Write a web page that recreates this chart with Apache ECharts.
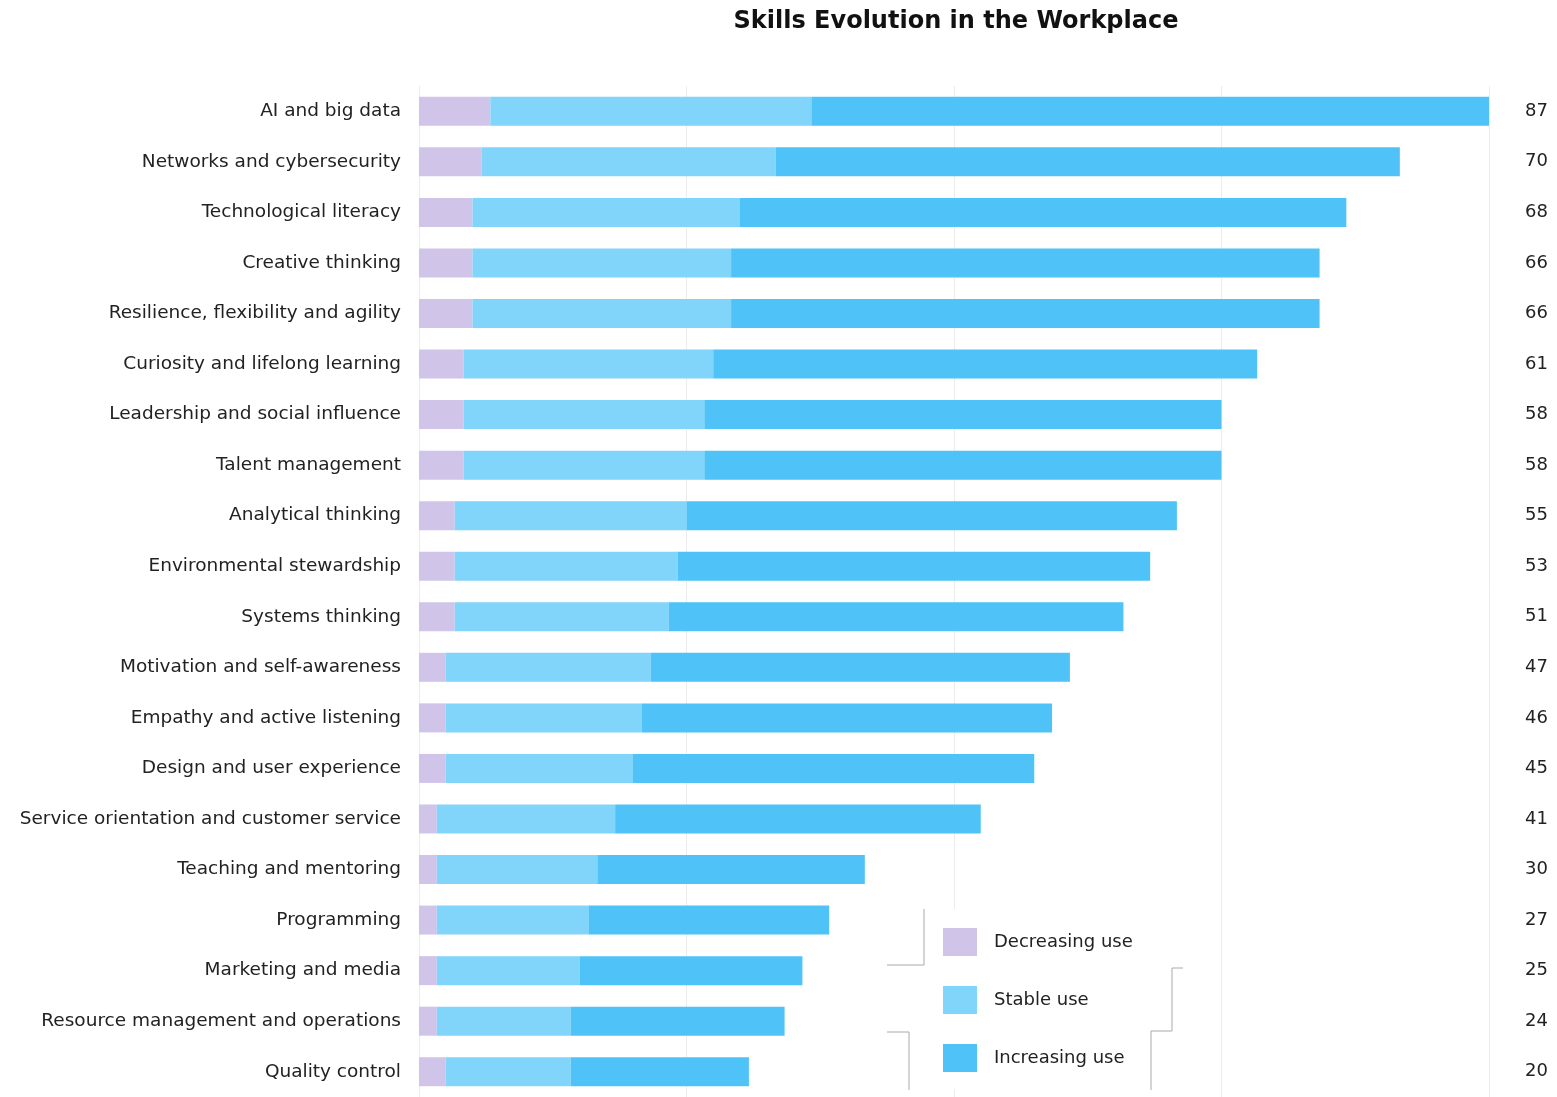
<!DOCTYPE html>
<html>
<head>
<meta charset="utf-8">
<title>Skills Evolution in the Workplace</title>
<script src="https://cdn.jsdelivr.net/npm/echarts@6/dist/echarts.min.js"></script>
<style>
  html, body { margin: 0; padding: 0; background: #fff; }
  #chart { width: 1557px; height: 1097px; }
</style>
</head>
<body>
<div id="chart"></div>
<script>
  // skills, top to bottom
  const skills = [
    'AI and big data',
    'Networks and cybersecurity',
    'Technological literacy',
    'Creative thinking',
    'Resilience, flexibility and agility',
    'Curiosity and lifelong learning',
    'Leadership and social influence',
    'Talent management',
    'Analytical thinking',
    'Environmental stewardship',
    'Systems thinking',
    'Motivation and self-awareness',
    'Empathy and active listening',
    'Design and user experience',
    'Service orientation and customer service',
    'Teaching and mentoring',
    'Programming',
    'Marketing and media',
    'Resource management and operations',
    'Quality control'
  ]
  const decreasing = [8, 7, 6, 6, 6, 5, 5, 5, 4, 4, 4, 3, 3, 3, 2, 2, 2, 2, 2, 3]
  const stable = [36, 33, 30, 29, 29, 28, 27, 27, 26, 25, 24, 23, 22, 21, 20, 18, 17, 16, 15, 14]
  const increasing = [87, 70, 68, 66, 66, 61, 58, 58, 55, 53, 51, 47, 46, 45, 41, 30, 27, 25, 24, 20]

  const font = 'DejaVu Sans'
  const textColor = '#222'

  let chart = echarts.init(document.getElementById('chart'))
  chart.setOption({
    animation: false,
    title: {
      text: 'Skills Evolution in the Workplace',
      left: 951,
      top: 5,
      textAlign: 'center',
      textStyle: { fontFamily: font, fontSize: 24, fontWeight: 'bold', color: '#111' }
    },
    legend: {
      orient: 'vertical',
      left: 887,
      top: 909,
      padding: [19, 49, 17, 56],
      backgroundColor: '#fff',
      itemWidth: 34,
      itemHeight: 28,
      itemGap: 30,
      icon: 'rect',
      textStyle: { fontFamily: font, fontSize: 18, color: textColor, padding: [0, 0, 0, 12] },
      data: ['Decreasing use', 'Stable use', 'Increasing use']
    },
    grid: { left: 419, right: 68, top: 86, height: 1016, containLabel: false },
    xAxis: {
      type: 'value',
      min: 0,
      max: 120,
      interval: 30,
      axisLabel: { show: false },
      axisLine: { show: false },
      axisTick: { show: false },
      splitLine: { show: true, lineStyle: { color: '#ececec', width: 1 } }
    },
    yAxis: [
      {
        type: 'category',
        inverse: true,
        data: skills,
        axisLine: { show: false },
        axisTick: { show: false },
        axisLabel: { margin: 18, fontFamily: font, fontSize: 18.5, color: textColor }
      },
      {
        type: 'category',
        inverse: true,
        position: 'right',
        data: increasing.map(String),
        axisLine: { show: false },
        axisTick: { show: false },
        axisLabel: { margin: 36, fontFamily: font, fontSize: 18, color: textColor }
      }
    ],
    series: [
      {
        name: 'Decreasing use',
        type: 'bar',
        stack: 'total',
        barWidth: 29,
        itemStyle: { color: '#d1c4e9' },
        data: decreasing
      },
      {
        name: 'Stable use',
        type: 'bar',
        stack: 'total',
        barWidth: 29,
        itemStyle: { color: '#81d4fa' },
        data: stable
      },
      {
        name: 'Increasing use',
        type: 'bar',
        stack: 'total',
        barWidth: 29,
        itemStyle: { color: '#4fc3f7' },
        data: increasing
      }
    ],
    // broken frame around the legend
    graphic: [
      { type: 'polyline', z: 100, shape: { points: [[924, 909], [924, 965], [887, 965]] }, style: { stroke: '#aaa', lineWidth: 1, fill: null } },
      { type: 'polyline', z: 100, shape: { points: [[1183, 968], [1172, 968], [1172, 1031], [1151, 1031], [1151, 1090]] }, style: { stroke: '#aaa', lineWidth: 1, fill: null } },
      { type: 'polyline', z: 100, shape: { points: [[887, 1032], [909, 1032], [909, 1090]] }, style: { stroke: '#aaa', lineWidth: 1, fill: null } }
    ]
  })
</script>
</body>
</html>
